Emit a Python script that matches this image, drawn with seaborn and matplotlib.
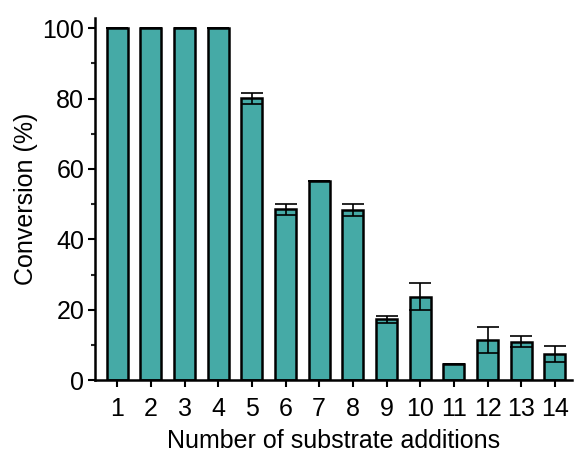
import numpy as np
import pandas as pd
import seaborn as sns
import matplotlib.pyplot as plt

additions = [str(i) for i in range(1, 15)]
conversion = [100, 100, 100, 100, 80.1, 48.5, 56.5, 48.3, 17.3, 23.7, 4.5, 11.5, 10.9, 7.4]
error = [0, 0, 0, 0, 1.6, 1.5, 0, 1.7, 1.0, 3.9, 0, 3.7, 1.6, 2.4]

sns.set_style("ticks")
plt.rcParams['font.family'] = ['Liberation Sans', 'DejaVu Sans']
plt.rcParams['text.color'] = 'black'
plt.rcParams['axes.labelcolor'] = 'black'

df = pd.DataFrame({"additions": additions, "conversion": conversion})

fig = plt.figure(figsize=(5.74, 4.53), dpi=100)
ax = fig.add_axes([0.166, 0.161, 0.83, 0.80])
sns.barplot(data=df, x="additions", y="conversion", color="#45aaa6", saturation=1,
            width=0.62, edgecolor="black", linewidth=1.8, ax=ax)
ax.errorbar(np.arange(len(additions)), conversion, yerr=error, fmt="none",
            ecolor="black", elinewidth=1.2, capsize=8, capthick=1.2, zorder=5)

ax.set_ylim(0, 103)
ax.set_xlim(-0.65, 13.5)
ax.set_yticks([0, 20, 40, 60, 80, 100])
ax.set_yticks([10, 30, 50, 70, 90], minor=True)
ax.set_xlabel("Number of substrate additions", fontsize=18, labelpad=6)
ax.set_ylabel("Conversion (%)", fontsize=18, labelpad=3)
ax.tick_params(axis="x", which="major", pad=7)
ax.tick_params(axis="both", which="major", labelsize=18, direction="out", length=5, width=1.5,
               colors="black")
ax.tick_params(axis="y", which="major", pad=3)
ax.tick_params(axis="y", which="minor", direction="out", length=3, width=1.5)
for s in ["left", "bottom"]:
    ax.spines[s].set_linewidth(1.8)
    ax.spines[s].set_color("black")
sns.despine(ax=ax)

fig.savefig("out.png", dpi=100)
